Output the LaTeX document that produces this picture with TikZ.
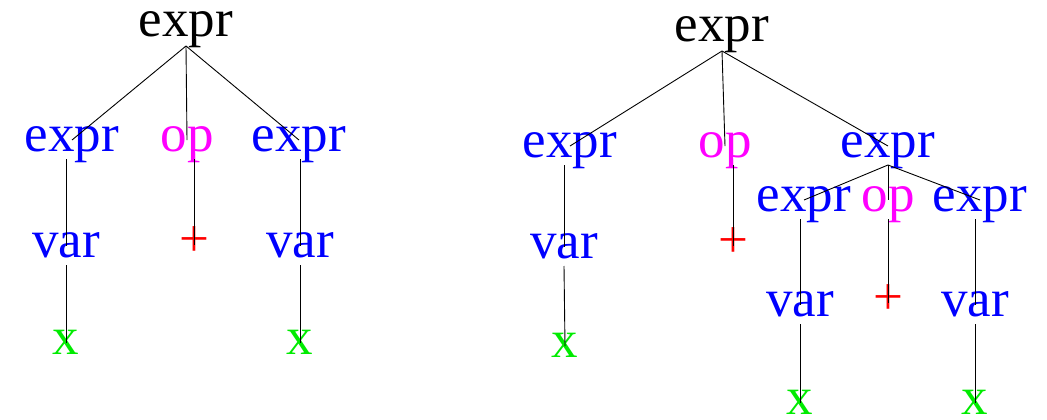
\documentclass[tikz,border=0pt]{standalone}
\usepackage{fontspec}
\setmainfont{Liberation Serif}
\definecolor{ntblue}{RGB}{0,0,255}
\definecolor{opmag}{RGB}{255,0,255}
\definecolor{plusred}{RGB}{255,0,0}
\definecolor{varx}{RGB}{0,235,0}
\begin{document}
\begin{tikzpicture}[
        x=1pt, y=-1pt,
        sym/.style={inner xsep=0pt, inner ysep=7pt, text height=1ex, text depth=0pt, anchor=south, font=\fontsize{53}{60}\selectfont},
        rootsym/.style={sym, text=black, inner ysep=9pt},
        nonterm/.style={sym, text=ntblue},
        opsym/.style={sym, text=opmag},
        plussym/.style={sym, text=plusred},
        termsym/.style={sym, text=varx},
        edge/.style={line width=0.9pt, black}
    ]
        \useasboundingbox (0,0) rectangle (1047,420);

        % left tree
        \node[rootsym] (lroot) at (186,46) {expr};
        \node[nonterm] (le1) at (72,159) {expr};
        \node[opsym] (lop) at (187,159) {op};
        \node[nonterm] (le2) at (299,159) {expr};
        \node[nonterm] (lv1) at (66,265) {var};
        \node[plussym] (lplus) at (194,264) {+};
        \node[nonterm] (lv2) at (300,265) {var};
        \node[termsym] (lx1) at (66,362) {x};
        \node[termsym] (lx2) at (300,362) {x};

        \draw[edge] (lroot.south) -- (le1.north);
        \draw[edge] (lroot.south) -- (lop.north);
        \draw[edge] (lroot.south) -- (le2.north);
        \draw[edge] (lv1 |- le1.south) -- (lv1.north);
        \draw[edge] (lplus |- lop.south) -- (lplus.north);
        \draw[edge] (lv2 |- le2.south) -- (lv2.north);
        \draw[edge] (lv1.south) -- (lx1.north);
        \draw[edge] (lv2.south) -- (lx2.north);

        % right tree
        \node[rootsym] (rroot) at (722,51) {expr};
        \node[nonterm] (re1) at (570,165) {expr};
        \node[opsym] (rop) at (725,165) {op};
        \node[nonterm] (re2) at (888,165) {expr};
        \node[nonterm] (rv1) at (564,266) {var};
        \node[plussym] (rplus) at (733,265) {+};
        \node[termsym] (rx1) at (565,365) {x};

        \node[nonterm] (se1) at (804,219) {expr};
        \node[opsym] (sop) at (888,219) {op};
        \node[nonterm] (se2) at (980,219) {expr};
        \node[nonterm] (sv1) at (800,324) {var};
        \node[plussym] (splus) at (888,322) {+};
        \node[nonterm] (sv2) at (975,324) {var};
        \node[termsym] (sx1) at (800,422) {x};
        \node[termsym] (sx2) at (975,422) {x};

        \draw[edge] (rroot.south) -- (re1.north);
        \draw[edge] (rroot.south) -- (rop.north);
        \draw[edge] (rroot.south) -- (re2.north);
        \draw[edge] (rv1 |- re1.south) -- (rv1.north);
        \draw[edge] (rplus |- rop.south) -- (rplus.north);
        \draw[edge] (rv1.south) -- (rx1.north);

        \draw[edge] (re2.south) -- (se1.north);
        \draw[edge] (re2.south) -- (sop.north);
        \draw[edge] (re2.south) -- (se2.north);
        \draw[edge] (sv1 |- se1.south) -- (sv1.north);
        \draw[edge] (splus |- sop.south) -- (splus.north);
        \draw[edge] (sv2 |- se2.south) -- (sv2.north);
        \draw[edge] (sv1.south) -- (sx1.north);
        \draw[edge] (sv2.south) -- (sx2.north);
\end{tikzpicture}
\end{document}
